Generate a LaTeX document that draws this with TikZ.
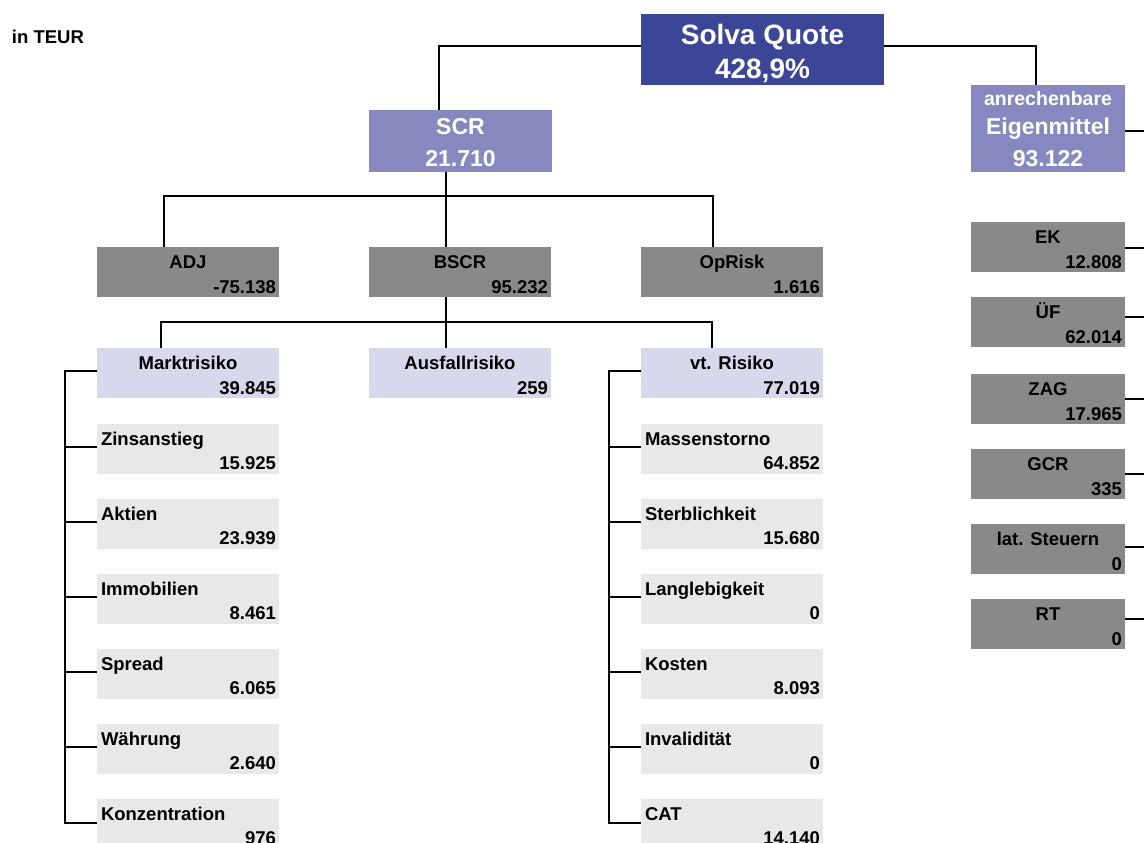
\documentclass[tikz,border=0pt]{standalone}
\usepackage{fontspec}
\setmainfont{Liberation Sans}
\usetikzlibrary{calc}
\definecolor{sqblue}{RGB}{60,70,150}
\definecolor{scrpurple}{RGB}{136,136,192}
\definecolor{boxgray}{RGB}{137,137,137}
\definecolor{lavender}{RGB}{216,216,236}
\definecolor{lightgray}{RGB}{232,232,232}
\tikzset{
  box/.style={inner sep=0pt, outer sep=0pt, anchor=north west, draw=none},
  conn/.style={line width=1.7pt, black},
  txt/.style={inner sep=0pt, outer sep=0pt, font=\fontsize{18.5}{20}\selectfont\bfseries},
  bigtxt/.style={inner sep=0pt, outer sep=0pt, text=white, anchor=base},
}
% centred label, right value
\newcommand\cbox[7]{%
  \node[box, fill=#5, minimum width=#4pt, minimum height=50pt] (#1) at (#2,#3) {};
  \node[txt, anchor=base] (#1l) at ($(#1.north)+(0,21)$) {#6};
  \node[txt, anchor=base east] (#1v) at ($(#1.north east)+(-3,46)$) {#7};
}
% left label, right value
\newcommand\lbox[6]{%
  \node[box, fill=#4, minimum width=182pt, minimum height=50pt] (#1) at (#2,#3) {};
  \node[txt, anchor=base west] (#1l) at ($(#1.north west)+(4,21)$) {#5};
  \node[txt, anchor=base east] (#1v) at ($(#1.north east)+(-3,45)$) {#6};
}
\begin{document}
\begin{tikzpicture}[x=1pt,y=-1pt]
\useasboundingbox (0,0) rectangle (1144,843);
\fill[white] (0,0) rectangle (1144,843);
\clip (0,0) rectangle (1144,843);

\node[txt, anchor=base west] (teur) at (12,44) {in TEUR};

% top boxes
\node[box, fill=sqblue, minimum width=243pt, minimum height=71pt] (sq) at (641,14) {};
\node[bigtxt, font=\fontsize{28}{30}\selectfont\bfseries] (sq1) at ($(sq.north)+(0,31)$) {Solva Quote};
\node[bigtxt, font=\fontsize{28}{30}\selectfont\bfseries] (sq2) at ($(sq.north)+(0,65)$) {428,9\%};

\node[box, fill=scrpurple, minimum width=183pt, minimum height=62pt] (scr) at (369,110) {};
\node[bigtxt, font=\fontsize{23}{25}\selectfont\bfseries] (scr1) at ($(scr.north)+(0,25)$) {SCR};
\node[bigtxt, font=\fontsize{23}{25}\selectfont\bfseries] (scr2) at ($(scr.north)+(0,56)$) {21.710};

\node[box, fill=scrpurple, minimum width=154pt, minimum height=87pt] (em) at (971,85) {};
\node[bigtxt, font=\fontsize{19.5}{21}\selectfont\bfseries] (em1) at ($(em.north)+(0,21)$) {anrechenbare};
\node[bigtxt, font=\fontsize{23}{25}\selectfont\bfseries] (em2) at ($(em.north)+(0,50)$) {Eigenmittel};
\node[bigtxt, font=\fontsize{23}{25}\selectfont\bfseries] (em3) at ($(em.north)+(0,81)$) {93.122};

% second level
\cbox{adj}{97}{247}{182}{boxgray}{ADJ}{-75.138}
\cbox{bscr}{369}{247}{182}{boxgray}{BSCR}{95.232}
\cbox{op}{641}{247}{182}{boxgray}{OpRisk}{1.616}

% third level
\cbox{markt}{97}{348}{182}{lavender}{Marktrisiko}{39.845}
\cbox{aus}{369}{348}{182}{lavender}{Ausfallrisiko}{259}
\cbox{vt}{641}{348}{182}{lavender}{vt. Risiko}{77.019}

% Markt children
\lbox{mk1}{97}{424}{lightgray}{Zinsanstieg}{15.925}
\lbox{mk2}{97}{499}{lightgray}{Aktien}{23.939}
\lbox{mk3}{97}{574}{lightgray}{Immobilien}{8.461}
\lbox{mk4}{97}{649}{lightgray}{Spread}{6.065}
\lbox{mk5}{97}{724}{lightgray}{Währung}{2.640}
\lbox{mk6}{97}{799}{lightgray}{Konzentration}{976}

% vt children
\lbox{vt1}{641}{424}{lightgray}{Massenstorno}{64.852}
\lbox{vt2}{641}{499}{lightgray}{Sterblichkeit}{15.680}
\lbox{vt3}{641}{574}{lightgray}{Langlebigkeit}{0}
\lbox{vt4}{641}{649}{lightgray}{Kosten}{8.093}
\lbox{vt5}{641}{724}{lightgray}{Invalidität}{0}
\lbox{vt6}{641}{799}{lightgray}{CAT}{14.140}

% Eigenmittel children
\cbox{ek}{971}{222}{154}{boxgray}{EK}{12.808}
\cbox{uf}{971}{297}{154}{boxgray}{ÜF}{62.014}
\cbox{zag}{971}{374}{154}{boxgray}{ZAG}{17.965}
\cbox{gcr}{971}{449}{154}{boxgray}{GCR}{335}
\cbox{lat}{971}{524}{154}{boxgray}{lat. Steuern}{0}
\cbox{rt}{971}{599}{154}{boxgray}{RT}{0}

% connectors: top
\draw[conn] ($(sq.north west)+(0,32)$) -| ($(scr.north west)+(70,0)$);
\draw[conn] ($(sq.north east)+(0,32)$) -| ($(em.north west)+(65,0)$);
\coordinate (emEnd) at ($(em.north east)+(30,46)$);
\draw[conn] ($(em.north east)+(0,46)$) -- (emEnd);

% SCR to level 2
\draw[conn] ($(scr.south west)+(77,0)$) -- ($(bscr.north west)+(77,0)$);
\draw[conn] ($(adj.north west)+(67,0)$) -- ++(0,-51) -| ($(op.north west)+(72,0)$);

% BSCR to level 3
\draw[conn] ($(bscr.south west)+(77,0)$) -- ($(aus.north west)+(77,0)$);
\draw[conn] ($(markt.north west)+(64,0)$) -- ++(0,-26) -| ($(vt.north west)+(71,0)$);

% Markt tree
\draw[conn] ($(markt.north west)+(0,23)$) -| ($(mk6.north west)+(-32,24)$) -- ($(mk6.north west)+(0,24)$);
\foreach \n in {mk1,mk2,mk3,mk4,mk5}
  \draw[conn] ($(\n.north west)+(-32,23)$) -- ($(\n.north west)+(0,23)$);

% vt tree
\draw[conn] ($(vt.north west)+(0,23)$) -| ($(vt6.north west)+(-32,24)$) -- ($(vt6.north west)+(0,24)$);
\foreach \n in {vt1,vt2,vt3,vt4,vt5}
  \draw[conn] ($(\n.north west)+(-32,23)$) -- ($(\n.north west)+(0,23)$);

% Eigenmittel children ticks
\foreach \n/\o in {ek/26,uf/20,zag/25,gcr/25,lat/23,rt/20}
  \draw[conn] ($(\n.north east)+(0,\o)$) -- ($(\n.north east)+(30,\o)$);
\end{tikzpicture}
\end{document}
